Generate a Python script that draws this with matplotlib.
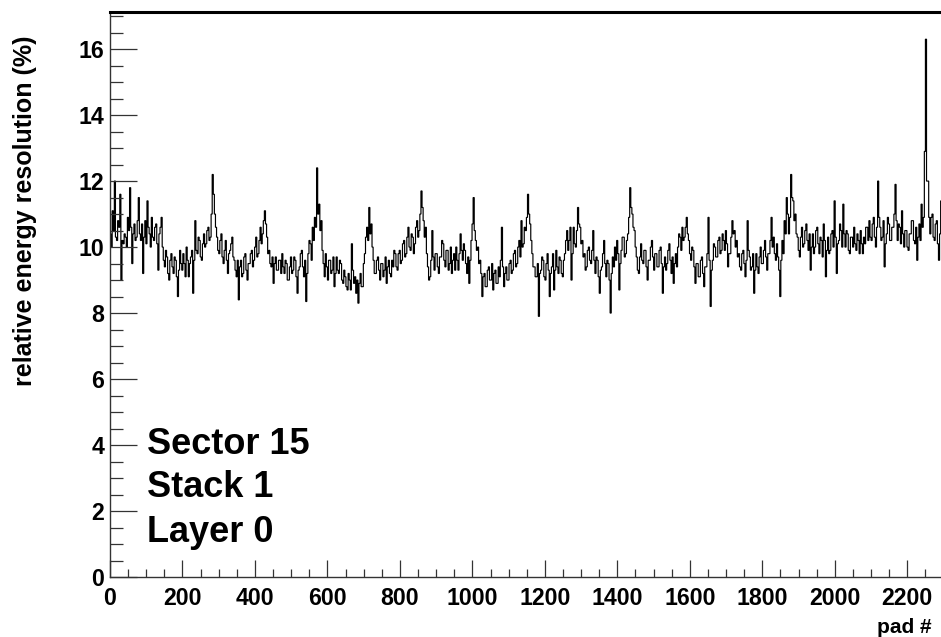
import numpy as np
import matplotlib
matplotlib.use("Agg")
import matplotlib.pyplot as plt

# ---- data: relative energy resolution (%) per 3-pad bin, 48 bins per 144-pad row ----
bin_width = 3
row0 = [10.4,10.0, 11.1,10.5, 12.0,10.3, 10.2,10.8, 10.6,11.6, 9.0,10.2, 10.1,10.4, 10.3,10.0, 10.9,10.5, 11.8,10.6, 9.5,10.4, 10.7,10.2,
        10.3,10.8, 11.5,10.4, 10.2,10.7, 9.2,10.3, 10.8,10.1, 11.4,10.6, 10.4,10.0, 10.9,10.3, 10.2,10.6, 10.7,10.1, 9.3,10.4, 10.6,10.9]
row1 = [10.0,9.6, 9.4,9.9, 9.7,9.2, 9.0,9.6, 9.8,9.4, 9.2,9.7, 9.6,9.1, 8.5,9.3, 9.9,9.5, 9.3,9.8, 9.5,9.1, 10.0,9.6,
        9.1,9.5, 9.7,9.9, 8.6,9.6, 10.8,9.9, 9.8,10.3, 10.2,9.7, 9.6,10.1, 10.4,10.0, 10.1,10.5, 10.6,10.2, 10.3,11.0, 12.2,11.6]
row2 = [11.0,10.6, 10.3,9.9, 9.8,10.2, 10.4,9.7, 9.5,9.9, 10.2,9.6, 9.2,9.8, 9.9,10.1, 10.3,9.7, 9.6,9.3, 9.1,9.6, 8.4,9.4,
        9.6,9.1, 9.2,9.7, 9.8,9.3, 9.0,9.5, 9.5,9.8, 9.9,9.4, 9.6,10.0, 10.3,9.7, 9.8,10.2, 10.6,10.1, 10.4,10.8, 11.1,10.7]
row3 = [10.3,9.8, 9.9,9.5, 9.4,9.7, 8.9,9.5, 9.7,9.3, 9.3,9.6, 9.6,9.2, 9.8,9.4, 9.2,9.6, 9.5,9.0, 9.0,9.4, 9.7,9.2,
        9.3,9.7, 9.6,9.1, 8.6,9.3, 9.4,9.8, 9.9,9.4, 9.1,9.6, 8.35,9.2, 9.8,10.2, 10.1,9.6, 10.6,10.2, 10.9,10.6, 12.4,11.0]
row4 = [11.3,10.5, 10.8,9.9, 9.5,9.1, 9.8,9.4, 9.0,9.6, 9.6,9.2, 9.3,9.7, 8.8,9.2, 9.7,9.3, 9.2,9.6, 9.5,9.0, 8.9,9.3,
        9.1,8.8, 8.7,9.2, 9.0,8.7, 10.1,9.3, 8.9,9.1, 8.6,9.0, 8.3,8.9, 9.2,8.8, 8.8,9.5, 9.8,10.3, 10.6,10.2, 11.2,10.4]
row5 = [10.7,10.0, 9.6,9.2, 9.2,9.6, 9.7,9.3, 9.0,9.5, 9.5,9.1, 9.3,9.7, 8.9,9.4, 9.6,9.2, 9.1,9.6, 9.4,9.9, 9.8,9.4,
        9.3,9.8, 9.9,9.5, 9.6,10.1, 10.2,9.7, 9.8,10.3, 10.6,10.0, 9.9,10.4, 10.3,9.8, 10.1,10.6, 10.8,10.3, 10.5,11.0, 11.7,11.2]
row6 = [10.8,10.3, 10.6,9.8, 9.4,9.0, 9.1,9.6, 10.5,9.7, 9.3,9.8, 9.8,9.4, 9.2,9.7, 9.7,10.2, 10.1,9.6, 9.4,9.9, 9.9,9.3,
        9.5,10.0, 9.2,9.6, 9.8,9.3, 10.0,9.6, 9.3,9.8, 10.4,9.9, 9.6,10.1, 9.9,9.5, 9.2,9.7, 8.9,9.6, 10.2,10.7, 11.5,10.5]
row7 = [10.2,9.9, 10.0,9.5, 9.6,9.2, 8.5,9.1, 9.2,8.8, 8.8,9.3, 9.4,9.0, 9.0,9.5, 8.7,9.2, 9.3,8.9, 8.9,9.4, 9.1,9.6,
        10.6,9.4, 8.8,9.2, 9.4,9.0, 9.0,9.5, 9.6,9.2, 9.3,9.8, 9.9,9.4, 9.5,10.0, 10.2,9.7, 10.8,10.0, 10.1,10.6, 10.5,10.9]
row8 = [11.6,11.0, 10.7,10.2, 9.8,9.4, 9.4,9.1, 9.1,9.5, 7.9,9.2, 9.3,9.7, 9.6,9.1, 9.0,9.5, 9.8,9.3, 8.5,9.2, 9.4,9.8,
        8.7,9.3, 9.9,9.4, 9.2,9.7, 9.6,9.2, 9.1,9.6, 9.8,10.2, 10.5,9.9, 10.2,10.6, 9.0,9.8, 10.6,10.1, 10.0,10.5, 11.2,10.7]
row9 = [10.6,10.1, 10.2,9.7, 9.8,9.3, 9.4,9.9, 10.0,9.6, 9.5,9.9, 10.5,9.6, 9.2,9.7, 9.6,9.1, 8.6,9.3, 9.4,9.8, 10.2,9.5,
        9.1,9.6, 9.5,9.0, 8.0,9.2, 9.7,9.4, 10.0,9.6, 10.2,9.8, 8.7,9.5, 9.9,10.3, 10.3,9.7, 9.8,10.2, 10.4,10.9, 11.8,11.2]
row10 = [11.0,10.6, 10.5,10.0, 9.7,9.3, 9.2,9.7, 10.1,9.6, 9.5,9.9, 9.9,9.4, 9.0,9.6, 9.6,10.0, 10.2,9.7, 9.3,9.8, 9.8,9.4,
         9.4,9.9, 10.0,9.5, 8.6,9.4, 9.7,9.3, 9.5,9.9, 10.1,9.6, 9.2,9.7, 8.9,9.5, 9.8,9.4, 10.0,10.4, 10.3,9.9, 10.6,10.2]
row11 = [10.3,10.6, 10.9,10.4, 10.2,9.8, 9.6,10.0, 9.9,9.4, 8.9,9.5, 9.5,9.1, 9.1,9.6, 9.7,9.2, 8.8,9.4, 9.4,9.8, 10.9,9.6,
         8.2,9.3, 9.6,10.1, 10.0,9.7, 9.7,10.2, 10.3,9.8, 9.9,10.4, 10.2,9.9, 10.5,10.1, 9.4,9.8, 9.8,10.3, 10.8,10.4, 10.5,10.0]
row12 = [10.2,9.7, 9.8,9.4, 9.3,9.8, 9.9,9.5, 9.1,9.6, 10.8,9.9, 9.7,9.3, 9.4,9.8, 8.6,9.3, 9.8,9.4, 9.2,9.7, 10.0,9.5,
         9.5,9.9, 10.2,9.7, 9.3,9.8, 9.8,10.2, 10.9,10.0, 10.3,9.8, 9.6,10.1, 9.7,9.3, 8.5,9.6, 10.2,9.8, 10.8,10.4, 11.5,11.0]
row13 = [10.4,10.9, 12.2,11.5, 11.4,10.8, 11.0,10.4, 10.3,9.9, 9.7,10.3, 10.6,10.0, 10.1,10.5, 10.7,10.2, 9.9,10.4, 9.3,10.0, 10.4,9.8,
         10.0,10.5, 10.6,10.1, 9.8,10.3, 10.2,9.7, 10.7,10.2, 9.1,9.9, 10.3,9.8, 9.9,10.4, 10.5,10.0, 11.4,10.3, 9.2,10.1, 10.2,10.7]
row14 = [10.5,10.0, 11.3,10.4, 10.0,10.5, 10.4,9.9, 9.8,10.3, 10.3,10.0, 10.6,10.1, 9.9,10.4, 10.2,9.8, 10.5,10.1, 9.8,10.3, 10.1,10.6,
         10.6,10.2, 10.8,10.3, 10.2,10.7, 10.9,10.3, 10.0,10.6, 12.0,10.9, 10.6,10.2, 10.3,10.8, 9.4,10.1, 10.4,10.9, 10.7,10.2, 10.2,10.6]
row15 = [10.6,11.0, 11.9,10.8, 10.2,10.7, 10.6,10.1, 11.1,10.4, 10.0,10.5, 10.5,10.0, 9.9,10.4, 10.4,10.8, 10.8,10.2, 10.1,10.6, 9.6,10.3,
         10.7,10.2, 11.3,10.6, 10.9,12.9, 16.3,12.0, 12.0,10.9, 10.4,10.9, 11.0,10.3, 10.2,10.7, 10.8,10.1, 9.6,10.4, 11.4,10.6, 10.5,10.9]

rows = [row0, row1, row2, row3, row4, row5, row6, row7,
        row8, row9, row10, row11, row12, row13, row14, row15]
resolution = np.concatenate([np.array(r, dtype=float) for r in rows])
pad_edges = np.arange(0, bin_width * len(resolution) + 1, bin_width)

xticks = [0, 200, 400, 600, 800, 1000, 1200, 1400, 1600, 1800, 2000, 2200]
yticks = [0, 2, 4, 6, 8, 10, 12, 14, 16]
labels_box = ["Sector 15", "Stack 1", "Layer 0"]

# ---- figure ----
W, H = 941, 637
fig = plt.figure(figsize=(W / 100, H / 100), dpi=100)
plt.rcParams['font.family'] = ['Liberation Sans', 'DejaVu Sans']
plt.rcParams['font.weight'] = 'bold'

ax_left, ax_right, ax_top, ax_bot = 110, 945, 11.5, 577
ax = fig.add_axes([ax_left / W, (H - ax_bot) / H, (ax_right - ax_left) / W, (ax_bot - ax_top) / H])

ax.stairs(resolution, pad_edges, baseline=None, color='black', linewidth=0.85)

ax.set_xlim(0, 2304)
ax.set_ylim(0, 17.14)
ax.set_xticks(xticks)
ax.set_xticks(np.arange(0, 2304, 50), minor=True)
ax.set_yticks(yticks)
ax.set_yticks(np.arange(0, 17.1, 0.5), minor=True)

tick_col = '#333333'
ax.tick_params(axis='x', which='major', direction='in', length=12.2, width=0.9, color=tick_col,
               labelsize=16.7, pad=7, top=False)
ax.tick_params(axis='x', which='minor', direction='in', length=5.8, width=0.9, color=tick_col, top=False)
ax.tick_params(axis='y', which='major', direction='in', length=19.4, width=0.9, color=tick_col,
               labelsize=16.7, pad=4, right=False)
ax.tick_params(axis='y', which='minor', direction='in', length=9.4, width=0.9, color=tick_col, right=False)
for lab in ax.get_xticklabels() + ax.get_yticklabels():
    lab.set_fontweight('bold')

ax.spines['left'].set_color(tick_col)
ax.spines['left'].set_linewidth(1.0)
ax.spines['bottom'].set_color(tick_col)
ax.spines['bottom'].set_linewidth(1.0)
ax.spines['top'].set_color('black')
ax.spines['top'].set_linewidth(2.2)
ax.spines['right'].set_visible(False)

fig.text(25 / W, 1 - 35 / H, "relative energy resolution (%)", rotation=90,
         ha='center', va='top', fontsize=18, fontweight='bold')
fig.text(932 / W, 1 - 633 / H, "pad #", ha='right', va='baseline',
         fontsize=15, fontweight='bold')

for txt, base in zip(labels_box, [454, 497, 542]):
    fig.text(147 / W, 1 - base / H, txt, ha='left', va='baseline',
             fontsize=26, fontweight='bold')

fig.savefig("out.png", dpi=100)
